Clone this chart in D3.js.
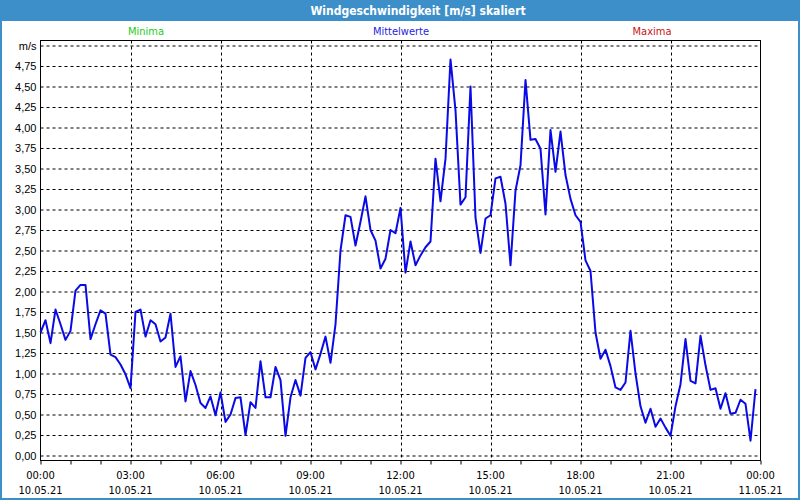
<!DOCTYPE html>
<html>
<head>
<meta charset="utf-8">
<script src="https://cdn.jsdelivr.net/npm/d3@7"></script>
<style>
  html, body { margin: 0; padding: 0; background: #fff; }
  svg { display: block; font-family: Tahoma, "DejaVu Sans Condensed", "Liberation Sans", sans-serif; }
</style>
</head>
<body>
<svg width="800" height="500"></svg>
<script>
// ---------- data ----------
const title = 'Windgeschwindigkeit [m/s] skaliert';
const legendLabels = ['Minima', 'Mittelwerte', 'Maxima'];
const legendColors = ['#22cc22', '#2424e0', '#c81414'];

// 10 minute means, 10.05.21 00:00 .. 23:50
const startTime = new Date(2021, 4, 10, 0, 0);
const endTime = new Date(2021, 4, 11, 0, 0);
const stepMinutes = 10;
const speed = [
  1.50, 1.65, 1.37, 1.78, 1.60, 1.41, 1.52, 2.01, 2.08, 2.08, 1.42, 1.60,
  1.77, 1.73, 1.23, 1.20, 1.11, 0.99, 0.82, 1.75, 1.78, 1.45, 1.65, 1.60,
  1.39, 1.44, 1.73, 1.08, 1.21, 0.66, 1.03, 0.86, 0.64, 0.58, 0.72, 0.49,
  0.77, 0.41, 0.50, 0.70, 0.71, 0.25, 0.65, 0.58, 1.15, 0.71, 0.71, 1.08,
  0.92, 0.24, 0.71, 0.92, 0.73, 1.19, 1.26, 1.05, 1.24, 1.45, 1.13, 1.60,
  2.50, 2.93, 2.91, 2.56, 2.85, 3.16, 2.75, 2.62, 2.28, 2.40, 2.75, 2.71,
  3.02, 2.23, 2.61, 2.32, 2.44, 2.54, 2.61, 3.62, 3.10, 3.62, 4.83, 4.21,
  3.06, 3.15, 4.50, 2.90, 2.47, 2.89, 2.93, 3.38, 3.40, 3.07, 2.32, 3.23,
  3.54, 4.58, 3.85, 3.86, 3.74, 2.94, 3.97, 3.46, 3.95, 3.42, 3.13, 2.93,
  2.85, 2.38, 2.25, 1.50, 1.18, 1.29, 1.09, 0.83, 0.80, 0.89, 1.52, 1.00,
  0.60, 0.40, 0.57, 0.35, 0.45, 0.34, 0.24, 0.60, 0.87, 1.42, 0.91, 0.88,
  1.46, 1.10, 0.80, 0.82, 0.57, 0.76, 0.51, 0.52, 0.68, 0.63, 0.18, 0.81
];

const yTicks = [0, 0.25, 0.5, 0.75, 1, 1.25, 1.5, 1.75, 2, 2.25, 2.5, 2.75,
                3, 3.25, 3.5, 3.75, 4, 4.25, 4.5, 4.75, 5];
const yUnit = 'm/s';
const xLabelHours = [0, 3, 6, 9, 12, 15, 18, 21, 24];
const xTimeLabels = ['00:00', '03:00', '06:00', '09:00', '12:00', '15:00', '18:00', '21:00', '00:00'];
const xDateLabels = ['10.05.21', '10.05.21', '10.05.21', '10.05.21', '10.05.21',
                     '10.05.21', '10.05.21', '10.05.21', '11.05.21'];

const data = speed.map((v, i) => ({
  time: new Date(startTime.getTime() + i * stepMinutes * 60000),
  value: v
}));

// ---------- layout ----------
const W = 800, H = 500;
const frame = '#3d8fc9';
const plot = {left: 40.5, right: 760.5, top: 40.5, bottom: 460.5};

const svg = d3.select('svg');

svg.append('rect')
   .attr('x', 1).attr('y', 1)
   .attr('width', W - 2).attr('height', H - 2)
   .attr('fill', '#fff')
   .attr('stroke', frame)
   .attr('stroke-width', 2);

svg.append('rect')
   .attr('x', 0).attr('y', 0)
   .attr('width', W).attr('height', 21)
   .attr('fill', frame);

svg.append('text')
   .attr('x', 418).attr('y', 15)
   .attr('text-anchor', 'middle')
   .attr('fill', '#fff')
   .attr('font-weight', 'bold')
   .attr('font-size', 12)
   .text(title);

const legendX = [146, 401, 652];
svg.selectAll('text.legend')
   .data(legendLabels)
   .join('text')
   .attr('class', 'legend')
   .attr('x', (d, i) => legendX[i])
   .attr('y', 35)
   .attr('text-anchor', 'middle')
   .attr('font-size', 11)
   .attr('fill', (d, i) => legendColors[i])
   .text(d => d);

//--------------SCALES---------------------------------------
const xScale = d3.scaleTime()
                 .domain([startTime, endTime])
                 .range([plot.left, plot.right]);

const yScale = d3.scaleLinear()
                 .domain([0, 5])
                 .range([455.5, 45.5]);

const hourTime = h => new Date(startTime.getTime() + h * 3600000);

//--------------GRID----------------------------------------
const yAxis = d3.axisLeft(yScale)
                .tickValues(yTicks)
                .tickSizeInner(-(plot.right - plot.left))
                .tickSizeOuter(0)
                .tickPadding(4)
                .tickFormat(d => d === 5 ? yUnit : d3.format('.2f')(d).replace('.', ','));

const gy = svg.append('g')
              .attr('transform', `translate(${plot.left},0)`)
              .call(yAxis);
gy.select('.domain').remove();
gy.selectAll('.tick line')
  .attr('stroke', '#000')
  .attr('stroke-dasharray', '3,3');
gy.selectAll('.tick text')
  .attr('font-family', null)
  .attr('font-size', 11)
  .attr('fill', '#000');

svg.append('g')
   .selectAll('line')
   .data(xLabelHours.slice(1, -1))
   .join('line')
   .attr('x1', d => Math.round(xScale(hourTime(d))) + 0.5)
   .attr('x2', d => Math.round(xScale(hourTime(d))) + 0.5)
   .attr('y1', plot.top)
   .attr('y2', plot.bottom)
   .attr('stroke', '#000')
   .attr('stroke-dasharray', '3,3');

//--------------AXES----------------------------------------
const xAxis = d3.axisBottom(xScale)
                .ticks(d3.timeHour.every(1))
                .tickSizeInner(4)
                .tickSizeOuter(0)
                .tickFormat('');
const gx = svg.append('g')
              .attr('transform', `translate(0,${plot.bottom})`)
              .call(xAxis);
gx.select('.domain').remove();
gx.selectAll('.tick line').attr('stroke', '#000');

const labels = svg.append('g')
                  .attr('font-size', 11)
                  .attr('text-anchor', 'middle')
                  .attr('fill', '#000');
labels.selectAll('text.t')
      .data(xLabelHours)
      .join('text')
      .attr('class', 't')
      .attr('x', d => xScale(hourTime(d)))
      .attr('y', 479)
      .text((d, i) => xTimeLabels[i]);
labels.selectAll('text.d')
      .data(xLabelHours)
      .join('text')
      .attr('class', 'd')
      .attr('x', d => xScale(hourTime(d)))
      .attr('y', 494)
      .text((d, i) => xDateLabels[i]);

svg.append('rect')
   .attr('x', plot.left).attr('y', plot.top)
   .attr('width', plot.right - plot.left)
   .attr('height', plot.bottom - plot.top)
   .attr('fill', 'none')
   .attr('stroke', '#000');

//-------------LINE----------------------------------------------
const line = d3.line()
               .x(d => xScale(d.time))
               .y(d => yScale(d.value));

svg.append('path')
   .datum(data)
   .attr('fill', 'none')
   .attr('stroke', '#0a0ae6')
   .attr('stroke-width', 2)
   .attr('stroke-linejoin', 'round')
   .attr('d', line);
</script>
</body>
</html>
